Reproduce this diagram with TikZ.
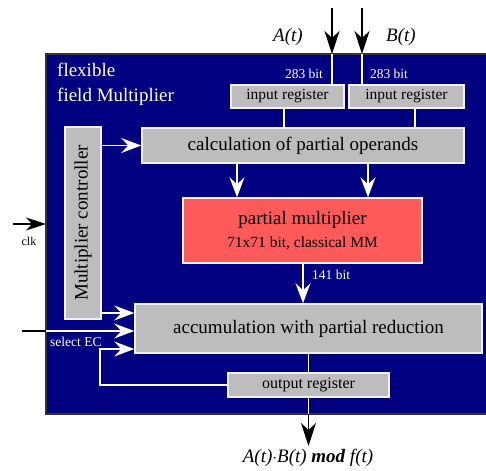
\documentclass[tikz,border=0pt]{standalone}
\usepackage{fontspec}
\setmainfont{Liberation Serif}
\usetikzlibrary{arrows.meta}
\definecolor{navy}{HTML}{000080}
\definecolor{boxgray}{HTML}{BDBDBD}
\definecolor{pmred}{HTML}{FF5A5A}
\tikzset{
  gbox/.style={draw=white!90!gray, line width=1.5pt, fill=boxgray, inner sep=0pt},
  wline/.style={draw=white, line width=1.3pt},
  warrow/.style={wline, -{Stealth[length=20pt,width=15pt,inset=7pt]}},
  barrow/.style={draw=black, line width=1.5pt, -{Stealth[length=23pt,width=15pt,inset=7pt]}},
  wlabel/.style={text=white, font=\fontsize{13.5}{16}\selectfont, inner sep=0pt},
}
\begin{document}
\begin{tikzpicture}[x=1pt,y=-1pt]
\useasboundingbox (0,0) rectangle (486,470);
% main blue frame
\fill[navy] (46,54) rectangle (486,414);
\draw[black!80, line width=1.5pt] (486,54) -- (46,54) -- (46,414) -- (486,414);
\node[text=white, font=\fontsize{19}{25}\selectfont, anchor=west, align=left, inner sep=0pt] (title) at (57,84) {flexible\\field Multiplier};
% boxes
\node[gbox, minimum width=113pt, minimum height=23pt, font=\fontsize{15.5}{18}\selectfont] (ir1) at (287.5,96.5) {input register};
\node[gbox, minimum width=115pt, minimum height=23pt, font=\fontsize{15.5}{18}\selectfont] (ir2) at (406.5,96.5) {input register};
\node[gbox, minimum width=322pt, minimum height=35pt, font=\fontsize{19}{22}\selectfont] (calc) at (303,145.5) {calculation of partial operands};
\node[gbox, minimum width=36pt, minimum height=192pt] (ctrl) at (83,223) {};
\node[rotate=90, font=\fontsize{19}{22}\selectfont, inner sep=0pt] (ctrltxt) at (ctrl.center) {Multiplier controller};
\node[gbox, fill=pmred, minimum width=239pt, minimum height=65pt, align=center] (pm) at (302.5,230.5) {\fontsize{19}{22}\selectfont partial multiplier\\[7pt]\fontsize{15.5}{18}\selectfont 71x71 bit, classical MM};
\node[gbox, minimum width=347pt, minimum height=49pt, font=\fontsize{19}{22}\selectfont] (acc) at (308.5,328.5) {accumulation with partial reduction};
\node[gbox, minimum width=161pt, minimum height=24pt, font=\fontsize{16}{19}\selectfont] (oreg) at (308.5,385) {output register};
% external inputs
\coordinate (atop) at (332,8);
\coordinate (btop) at (362,8);
\coordinate (aedge) at (332,54);
\coordinate (bedge) at (362,54);
\draw[barrow] (atop) -- (aedge);
\draw[barrow] (btop) -- (bedge);
\draw[wline] (aedge) -- (332,85);
\draw[wline] (bedge) -- (362,85);
\node[font=\itshape\fontsize{19}{22}\selectfont, inner sep=0pt] (at) at (288,37) {A(t)};
\node[font=\itshape\fontsize{19}{22}\selectfont, inner sep=0pt] (bt) at (401,37) {B(t)};
\node[wlabel] (b1) at (304,74) {283 bit};
\node[wlabel] (b2) at (389,74) {283 bit};
% registers to calc
\draw[wline] (ir1.south -| 284,0) -- (calc.north -| 284,0);
\draw[wline] (ir2.south -| 415,0) -- (calc.north -| 415,0);
% controller to calc
\draw[warrow] (ctrl.east |- calc.west) -- (calc.west);
% calc to pm
\draw[warrow] (calc.south -| 237,0) -- (pm.north -| 237,0);
\draw[warrow] (calc.south -| 368,0) -- (pm.north -| 368,0);
% pm to acc
\draw[warrow] (pm.south -| 303,0) -- (acc.north -| 303,0);
\node[wlabel, anchor=west] (b141) at (312,275) {141 bit};
% into acc
\draw[warrow] (ctrl.east |- 0,313) -- (acc.west |- 0,313);
\coordinate (selin) at (22,331);
\draw[black, line width=1.5pt] (selin) -- (46,331);
\draw[warrow] (46,331) -- (acc.west |- 0,331);
\node[wlabel, anchor=west] (sel) at (50,342) {select EC};
\draw[warrow] (oreg.west) -| (100,349) -- (acc.west |- 0,349);
% acc to oreg
\draw[wline] (acc.south -| oreg.north) -- (oreg.north);
% output
\coordinate (oedge) at (308.5,414);
\coordinate (oend) at (308.5,446);
\draw[wline] (oreg.south) -- (oedge);
\draw[barrow] (oedge) -- (oend);
\node[font=\itshape\fontsize{19}{22}\selectfont, inner sep=0pt] (res) at (308,458) {A(t)$\cdot$B(t) \textbf{mod} f(t)};
% clk
\coordinate (clkin) at (13,224);
\draw[draw=black, line width=1.5pt, -{Stealth[length=20pt,width=13pt,inset=6pt]}] (clkin) -- (46,224);
\node[font=\fontsize{12}{14}\selectfont, inner sep=0pt] (clk) at (29,241) {clk};
\end{tikzpicture}
\end{document}
